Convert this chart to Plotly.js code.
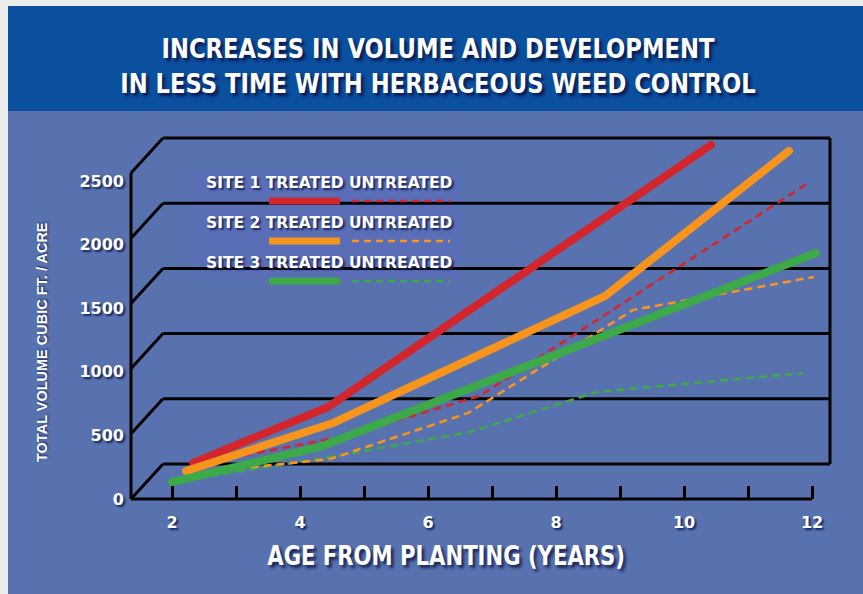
<!DOCTYPE html>
<html>
<head>
<meta charset="utf-8">
<script src="https://cdn.plot.ly/plotly-3.0.1.min.js"></script>
<style>
  html, body { margin: 0; padding: 0; background: #ececec; }
  #chart { width: 863px; height: 594px; }
  #chart .scatterlayer .trace:nth-child(4) .js-line,
  #chart .scatterlayer .trace:nth-child(5) .js-line,
  #chart .scatterlayer .trace:nth-child(6) .js-line { stroke-linecap: round; stroke-linejoin: round; }
</style>
</head>
<body>
<div id="chart"></div>
<script>
// ---------- DATA ----------
const ageTicks = [2, 3, 4, 5, 6, 7, 8, 9, 10, 11, 12];
const ageTickText = ['2', '', '4', '', '6', '', '8', '', '10', '', '12'];
const volumeTicks = [0, 500, 1000, 1500, 2000, 2500];
const volumeTickText = ['0', '500', '1000', '1500', '2000', '2500'];

const siteNames = ['SITE 1', 'SITE 2', 'SITE 3'];
const siteColors = ['#d3262c', '#f7941d', '#3caa48'];

const site1TreatedAge = [2.33, 4.44, 10.42];
const site1TreatedVol = [276, 706, 2715];
const site1UntreatedAge = [2.33, 4.63, 6.81, 11.94];
const site1UntreatedVol = [261, 475, 790, 2423];

const site2TreatedAge = [2.22, 4.52, 8.77, 11.64];
const site2TreatedVol = [215, 583, 1557, 2669];
const site2UntreatedAge = [2.22, 4.47, 6.63, 9.20, 12.03];
const site2UntreatedVol = [192, 307, 660, 1449, 1703];

const site3TreatedAge = [2.0, 4.31, 12.06];
const site3TreatedVol = [130, 399, 1887];
const site3UntreatedAge = [2.0, 4.47, 6.66, 8.64, 11.86];
const site3UntreatedVol = [130, 322, 514, 821, 966];

// ---------- LAYOUT GEOMETRY ----------
const W = 863, H = 594;
const M = { l: 125, r: 27, t: 131, b: 89 };
const PW = W - M.l - M.r, PH = H - M.t - M.b;
const px2x = p => (p - M.l) / PW;
const py2y = p => (H - M.b - p) / PH;

const PX_PER_YEAR = 64, AGE0_PX = 172, ZERO_PY = 499, TOP_PY = 173;
const K = 2500 / (ZERO_PY - TOP_PY);
const xAt = p => 2 + (p - AGE0_PX) / PX_PER_YEAR;
const xRange = [xAt(M.l), xAt(W - M.r)];
const yRange = [-(H - M.b - ZERO_PY) * K, (ZERO_PY - M.t) * K];
const K2 = 2500 / (ZERO_PY - 181);
const y2Range = [-(H - M.b - ZERO_PY) * K2, (ZERO_PY - M.t) * K2];

const X0 = xAt(131);
const XR = xAt(830);
const DX = 32 / PX_PER_YEAR;
const DY = 35 * K;

const frameLine = { color: '#000000', width: 3 };
const shapes = [];
shapes.push({ type: 'rect', xref: 'paper', yref: 'paper', layer: 'below',
  x0: px2x(8), x1: px2x(W), y0: py2y(111), y1: py2y(6),
  fillcolor: '#0b4f9f', line: { width: 0 } });
shapes.push({ type: 'rect', xref: 'paper', yref: 'paper', layer: 'below',
  x0: px2x(0), x1: px2x(W), y0: py2y(6), y1: py2y(0),
  fillcolor: '#ececec', line: { width: 0 } });
shapes.push({ type: 'rect', xref: 'paper', yref: 'paper', layer: 'below',
  x0: px2x(0), x1: px2x(8), y0: py2y(H), y1: py2y(0),
  fillcolor: '#ececec', line: { width: 0 } });

volumeTicks.forEach(v => {
  shapes.push({ type: 'line', xref: 'x', yref: 'y', layer: 'below',
    x0: X0, y0: v, x1: X0 + DX, y1: v + DY, line: frameLine });
  shapes.push({ type: 'line', xref: 'x', yref: 'y', layer: 'below',
    x0: X0 + DX, y0: v + DY, x1: XR, y1: v + DY, line: frameLine });
});
shapes.push({ type: 'line', xref: 'x', yref: 'y', layer: 'below',
  x0: X0, y0: 0, x1: X0, y1: volumeTicks[volumeTicks.length - 1], line: frameLine });
shapes.push({ type: 'line', xref: 'x', yref: 'y', layer: 'below',
  x0: XR, y0: DY, x1: XR, y1: volumeTicks[volumeTicks.length - 1] + DY, line: frameLine });
shapes.push({ type: 'line', xref: 'x', yref: 'y', layer: 'below',
  x0: X0, y0: 0, x1: ageTicks[ageTicks.length - 1], y1: 0, line: frameLine });

shapes.push({ type: 'rect', xref: 'paper', yref: 'paper', layer: 'below',
  x0: px2x(193), x1: px2x(461), y0: py2y(279), y1: py2y(171),
  fillcolor: '#5a6eb8', line: { width: 0 } });

const shadow = '2px 2px 2px #1a2658';
const annotations = [];
const legendRowPy = [183, 223, 263];
siteNames.forEach((s, i) => {
  annotations.push({ xref: 'paper', yref: 'paper', x: px2x(204), y: py2y(legendRowPy[i]),
    xanchor: 'left', yanchor: 'middle', showarrow: false,
    text: s + ' TREATED UNTREATED',
    font: { family: 'DejaVu Sans', weight: 'bold', size: 15.5, color: '#ffffff', shadow: shadow } });
  shapes.push({ type: 'line', xref: 'paper', yref: 'paper',
    x0: px2x(269), x1: px2x(340), y0: py2y(legendRowPy[i] + 18), y1: py2y(legendRowPy[i] + 18),
    line: { color: siteColors[i], width: 7 } });
  shapes.push({ type: 'line', xref: 'paper', yref: 'paper',
    x0: px2x(352), x1: px2x(450), y0: py2y(legendRowPy[i] + 18), y1: py2y(legendRowPy[i] + 18),
    line: { color: siteColors[i], width: 2.5, dash: '7px,5px' } });
});

annotations.push({ xref: 'paper', yref: 'paper', x: px2x(446), y: py2y(555),
  xanchor: 'center', yanchor: 'middle', showarrow: false,
  text: 'AGE FROM PLANTING (YEARS)',
  font: { family: 'DejaVu Sans', weight: 'bold', size: 27, color: '#ffffff', shadow: '3px 3px 3px #1a2658' } });
annotations.push({ xref: 'paper', yref: 'paper', x: px2x(42), y: py2y(342),
  xanchor: 'center', yanchor: 'middle', showarrow: false, textangle: -90,
  text: 'TOTAL VOLUME CUBIC FT. / ACRE',
  font: { family: 'Liberation Sans, Arial, sans-serif', weight: 'bold', size: 14.5, color: '#ffffff', shadow: '1px 1px 2px #1a2658' } });

function solid(x, y, c) {
  return { type: 'scatter', mode: 'lines', x: x, y: y, showlegend: false, hoverinfo: 'skip',
    line: { color: c, width: 8, shape: 'linear' } };
}
function dashed(x, y, c) {
  return { type: 'scatter', mode: 'lines', x: x, y: y, showlegend: false, hoverinfo: 'skip',
    line: { color: c, width: 2.6, dash: '8px,5px' } };
}

const traces = [
  dashed(site3UntreatedAge, site3UntreatedVol, siteColors[2]),
  dashed(site2UntreatedAge, site2UntreatedVol, siteColors[1]),
  dashed(site1UntreatedAge, site1UntreatedVol, siteColors[0]),
  solid(site1TreatedAge, site1TreatedVol, siteColors[0]),
  solid(site2TreatedAge, site2TreatedVol, siteColors[1]),
  solid(site3TreatedAge, site3TreatedVol, siteColors[2]),
  { type: 'scatter', mode: 'lines', x: [], y: [], yaxis: 'y2', showlegend: false, hoverinfo: 'skip' }
];

const tickFont = { family: 'DejaVu Sans', weight: 'bold', size: 16, color: '#ffffff', shadow: shadow };

const layout = {
  width: W, height: H,
  margin: M,
  paper_bgcolor: '#5872b0',
  plot_bgcolor: 'rgba(0,0,0,0)',
  showlegend: false,
  title: {
    text: 'INCREASES IN VOLUME AND DEVELOPMENT<br>IN LESS TIME WITH HERBACEOUS WEED CONTROL',
    xref: 'container', yref: 'container', x: 438 / W, y: 1 - 58 / H,
    xanchor: 'center', yanchor: 'middle',
    font: { family: 'DejaVu Sans', weight: 'bold', size: 27, color: '#ffffff', shadow: '3px 3px 3px #0a1a50' }
  },
  xaxis: {
    range: xRange, anchor: 'free', position: py2y(ZERO_PY),
    tickmode: 'array', tickvals: ageTicks, ticktext: ageTickText,
    ticks: 'inside', ticklen: 13, tickwidth: 3, tickcolor: '#000000',
    ticklabelstandoff: 12,
    showgrid: false, zeroline: false, showline: false,
    tickfont: tickFont
  },
  yaxis: {
    range: yRange, showticklabels: false, ticks: '',
    showgrid: false, zeroline: false, showline: false
  },
  yaxis2: {
    range: y2Range, overlaying: 'y', side: 'left', anchor: 'x',
    tickmode: 'array', tickvals: volumeTicks, ticktext: volumeTickText,
    ticks: '',
    showgrid: false, zeroline: false, showline: false,
    tickfont: tickFont
  },
  shapes: shapes,
  annotations: annotations
};

// narrow the heavy display text horizontally to imitate the condensed face
function squeeze(el, targetWidth) {
  if (!el) return;
  const b = el.getBBox();
  if (!b.width) return;
  const s = targetWidth / b.width;
  const cx = b.x + b.width / 2;
  const prev = el.getAttribute('transform') || '';
  el.setAttribute('transform', prev + ` translate(${cx},0) scale(${s},1) translate(${-cx},0)`);
}

Plotly.newPlot('chart', traces, layout, { staticPlot: true, displayModeBar: false }).then(gd => {
  squeeze(gd.querySelector('.gtitle'), 636);
  squeeze(gd.querySelector('.annotation[data-index="3"] text'), 358);
});
</script>
</body>
</html>
